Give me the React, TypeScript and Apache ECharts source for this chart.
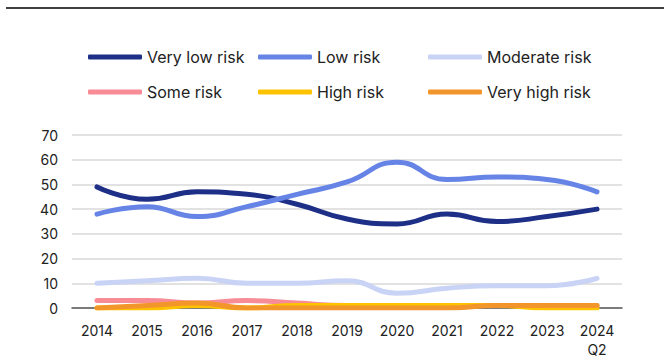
import React, { useEffect, useRef } from "react";
import * as echarts from "echarts";

const years = ["2014", "2015", "2016", "2017", "2018", "2019", "2020", "2021", "2022", "2023", "2024\nQ2"];
const veryLowRisk = [49, 44, 47, 46, 42, 36, 34, 38, 35, 37, 40];
const lowRisk = [38, 41, 37, 41, 46, 51, 59, 52, 53, 52, 47];
const moderateRisk = [10, 11, 12, 10, 10, 11, 6, 8, 9, 9, 12];
const someRisk = [3, 3, 2, 3, 2, 1, 1, 1, 1, 1, 1];
const highRisk = [0, 0, 1, 0, 1, 1, 1, 1, 1, 0, 0];
const veryHighRisk = [0, 1, 2, 0, 0, 0, 0, 0, 1, 1, 1];
const yTicks = { min: 0, max: 70, interval: 10 };

const seriesDefs = [
  { name: "Very low risk", data: veryLowRisk, color: "#1d2f86" },
  { name: "Low risk", data: lowRisk, color: "#6684e6" },
  { name: "Moderate risk", data: moderateRisk, color: "#c9d3f6" },
  { name: "Some risk", data: someRisk, color: "#f78c96" },
  { name: "High risk", data: highRisk, color: "#fdc300" },
  { name: "Very high risk", data: veryHighRisk, color: "#f2962c" },
];

const FONT = "Inter, 'Noto Sans', sans-serif";

function legendColumn(left: number, names: string[]) {
  return {
    orient: "vertical",
    left,
    top: 48,
    itemWidth: 54,
    itemHeight: 5,
    itemGap: 17,
    icon: "roundRect",
    data: names,
    selectedMode: false,
    textStyle: { color: "#222", fontSize: 16, fontFamily: FONT, lineHeight: 18, padding: [0, 0, 0, 0] },
    padding: 0,
  };
}

export default function App() {
  const ref = useRef<HTMLDivElement>(null);

  useEffect(() => {
    if (!ref.current) return;
    const chart = echarts.init(ref.current, undefined, { renderer: "svg" });
    chart.setOption({
      animation: false,
      backgroundColor: "#fff",
      textStyle: { fontFamily: FONT },
      graphic: [
        {
          type: "line",
          shape: { x1: 6, y1: 8, x2: 664, y2: 8 },
          style: { stroke: "#000", lineWidth: 1.5 },
        },
      ],
      legend: [
        legendColumn(88, ["Very low risk", "Some risk"]),
        legendColumn(258, ["Low risk", "High risk"]),
        legendColumn(428, ["Moderate risk", "Very high risk"]),
      ],
      grid: { left: 72, right: 42, top: 135, bottom: 55 },
      xAxis: {
        type: "category",
        data: years,
        boundaryGap: true,
        axisLine: { lineStyle: { color: "#595959", width: 1.5 } },
        axisTick: { show: false },
        axisLabel: { color: "#222", fontSize: 14, margin: 13, lineHeight: 19, fontFamily: FONT },
      },
      yAxis: {
        type: "value",
        min: yTicks.min,
        max: yTicks.max,
        interval: yTicks.interval,
        axisLine: { show: false },
        axisTick: { show: false },
        axisLabel: { color: "#222", fontSize: 14, margin: 14, fontFamily: FONT },
        splitLine: { lineStyle: { color: "#d9d9d9", width: 1.5 } },
      },
      series: seriesDefs.map((s) => ({
        name: s.name,
        type: "line",
        data: s.data,
        smooth: true,
        showSymbol: false,
        symbol: "none",
        color: s.color,
        lineStyle: { color: s.color, width: 5, cap: "round", join: "round" },
      })),
    });
    return () => chart.dispose();
  }, []);

  return (
    <div
      ref={ref}
      style={{ position: "fixed", left: 0, top: 0, width: 664, height: 363 }}
    />
  );
}
